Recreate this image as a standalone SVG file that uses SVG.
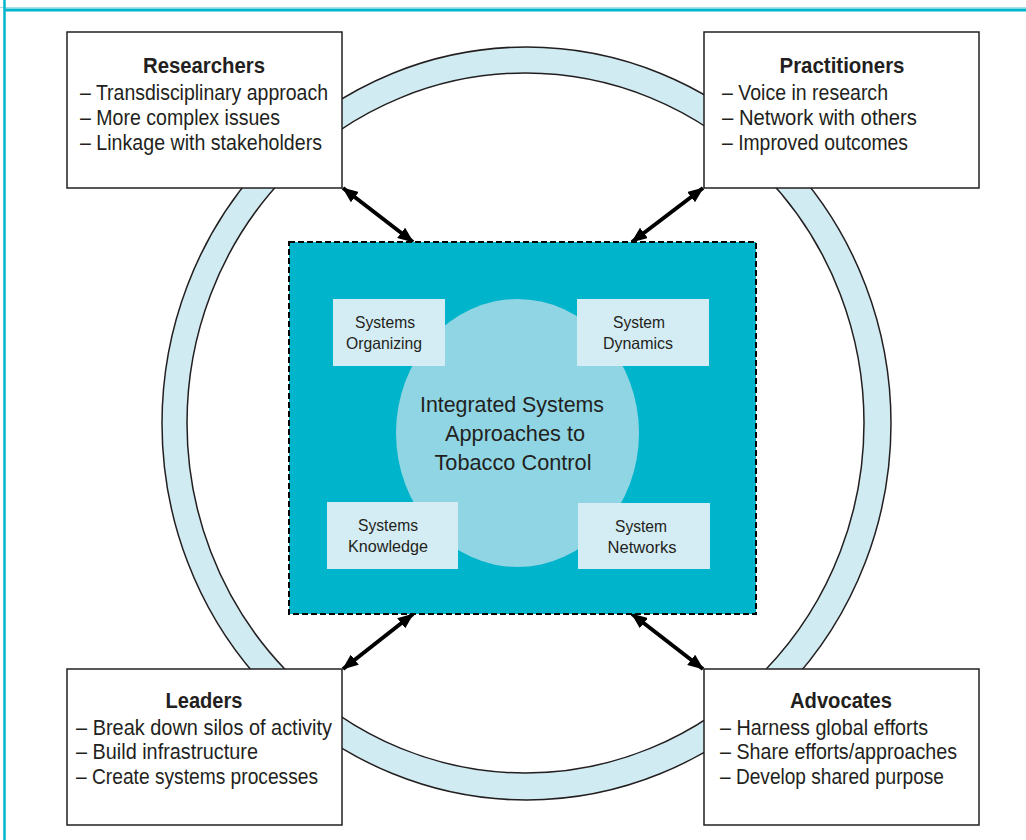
<svg xmlns="http://www.w3.org/2000/svg" width="1026" height="840" viewBox="0 0 1026 840">
<defs>
<style>
text{font-family:"Liberation Sans Narrow","Liberation Sans",Arial,sans-serif;fill:#231f20}
.t{font-size:22px;font-weight:bold;text-anchor:middle}
.l{font-size:22.5px}
.s{font-size:16.5px;text-anchor:middle}
.c{font-size:21.5px;text-anchor:middle}
.box{fill:#fff;stroke:#231f20;stroke-width:1.5}
.sb{fill:#d4edf4}
.arr{stroke:#000;stroke-width:4;fill:none;marker-start:url(#ah);marker-end:url(#ah)}
</style>
<marker id="ah" viewBox="0 0 16 13" refX="15" refY="6.5" markerWidth="16" markerHeight="13" markerUnits="userSpaceOnUse" orient="auto-start-reverse">
<path d="M0,0 L16,6.5 L0,13 z" fill="#000"/>
</marker>
</defs>
<rect width="1026" height="840" fill="#fff"/>
<g id="frame">
<line x1="0" y1="7.5" x2="1026" y2="7.5" stroke="#a8dde8" stroke-width="1"/>
<line x1="4" y1="10" x2="1026" y2="10" stroke="#00b4cc" stroke-width="3"/>
<line x1="4.5" y1="0" x2="4.5" y2="840" stroke="#00b4cc" stroke-width="2.5"/>
</g>
<g id="ring">
<ellipse cx="526.5" cy="423.5" rx="364.5" ry="376.5" fill="#d1ebf2" stroke="#231f20" stroke-width="1.5"/>
<ellipse cx="525.5" cy="423" rx="338.5" ry="350" fill="#fff" stroke="#231f20" stroke-width="1.5"/>
</g>
<g id="connectors">
<line class="arr" x1="343" y1="188" x2="413" y2="242"/>
<line class="arr" x1="703" y1="188" x2="632" y2="242"/>
<line class="arr" x1="343" y1="669" x2="413" y2="614"/>
<line class="arr" x1="703" y1="669" x2="632" y2="614"/>
</g>
<g id="center">
<rect x="289" y="242" width="467" height="372" fill="#00b4cc" stroke="#000" stroke-width="2" stroke-dasharray="6,3"/>
<ellipse cx="517.5" cy="433" rx="121.5" ry="134" fill="#8fd5e3"/>
<text class="c" x="512" y="412" textLength="184" lengthAdjust="spacingAndGlyphs">Integrated Systems</text>
<text class="c" x="515" y="441" textLength="140" lengthAdjust="spacingAndGlyphs">Approaches to</text>
<text class="c" x="513" y="470" textLength="157" lengthAdjust="spacingAndGlyphs">Tobacco Control</text>
</g>
<g id="systems-organizing">
<rect class="sb" x="333" y="299" width="112" height="67"/>
<text class="s" x="385" y="328" textLength="60" lengthAdjust="spacingAndGlyphs">Systems</text>
<text class="s" x="384" y="349" textLength="76" lengthAdjust="spacingAndGlyphs">Organizing</text>
</g>
<g id="system-dynamics">
<rect class="sb" x="577" y="299" width="132" height="67"/>
<text class="s" x="639" y="328" textLength="52" lengthAdjust="spacingAndGlyphs">System</text>
<text class="s" x="638" y="349" textLength="70" lengthAdjust="spacingAndGlyphs">Dynamics</text>
</g>
<g id="systems-knowledge">
<rect class="sb" x="327" y="502" width="131" height="67"/>
<text class="s" x="388" y="531" textLength="60" lengthAdjust="spacingAndGlyphs">Systems</text>
<text class="s" x="388" y="552" textLength="80" lengthAdjust="spacingAndGlyphs">Knowledge</text>
</g>
<g id="system-networks">
<rect class="sb" x="578" y="503" width="132" height="66"/>
<text class="s" x="641" y="532" textLength="52" lengthAdjust="spacingAndGlyphs">System</text>
<text class="s" x="642" y="553" textLength="69" lengthAdjust="spacingAndGlyphs">Networks</text>
</g>
<g id="researchers">
<rect class="box" x="67" y="32" width="275" height="156"/>
<text class="t" x="204" y="73" textLength="122" lengthAdjust="spacingAndGlyphs">Researchers</text>
<text class="l" x="80" y="100" textLength="248" lengthAdjust="spacingAndGlyphs">– Transdisciplinary approach</text>
<text class="l" x="80" y="125" textLength="200" lengthAdjust="spacingAndGlyphs">– More complex issues</text>
<text class="l" x="80" y="150" textLength="242" lengthAdjust="spacingAndGlyphs">– Linkage with stakeholders</text>
</g>
<g id="practitioners">
<rect class="box" x="704" y="32" width="275" height="156"/>
<text class="t" x="842" y="73" textLength="125" lengthAdjust="spacingAndGlyphs">Practitioners</text>
<text class="l" x="722" y="100" textLength="166" lengthAdjust="spacingAndGlyphs">– Voice in research</text>
<text class="l" x="722" y="125" textLength="195" lengthAdjust="spacingAndGlyphs">– Network with others</text>
<text class="l" x="722" y="150" textLength="186" lengthAdjust="spacingAndGlyphs">– Improved outcomes</text>
</g>
<g id="leaders">
<rect class="box" x="67" y="669" width="275" height="156"/>
<text class="t" x="204" y="708" textLength="77" lengthAdjust="spacingAndGlyphs">Leaders</text>
<text class="l" x="76" y="735" textLength="256" lengthAdjust="spacingAndGlyphs">– Break down silos of activity</text>
<text class="l" x="76" y="759" textLength="182" lengthAdjust="spacingAndGlyphs">– Build infrastructure</text>
<text class="l" x="76" y="784" textLength="242" lengthAdjust="spacingAndGlyphs">– Create systems processes</text>
</g>
<g id="advocates">
<rect class="box" x="704" y="669" width="275" height="156"/>
<text class="t" x="841" y="708" textLength="102" lengthAdjust="spacingAndGlyphs">Advocates</text>
<text class="l" x="720" y="735" textLength="208" lengthAdjust="spacingAndGlyphs">– Harness global efforts</text>
<text class="l" x="720" y="759" textLength="237" lengthAdjust="spacingAndGlyphs">– Share efforts/approaches</text>
<text class="l" x="720" y="784" textLength="224" lengthAdjust="spacingAndGlyphs">– Develop shared purpose</text>
</g>
</svg>
